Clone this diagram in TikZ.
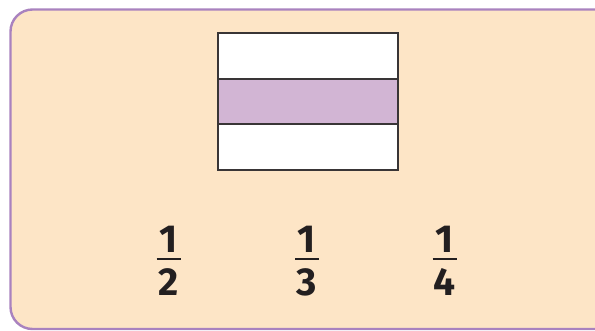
\documentclass[tikz,border=0pt]{standalone}
\usepackage{fontspec}
\newfontfamily\fracfont{Fira Sans}
\definecolor{panelbg}{HTML}{FDE5C6}
\definecolor{panelline}{HTML}{A982BF}
\definecolor{stripe}{HTML}{D2B5D4}
\definecolor{ink}{HTML}{231F20}
\begin{document}
\begin{tikzpicture}[x=1pt,y=-1pt,
  panel/.style={draw=panelline,fill=panelbg,line width=2.4pt,rounded corners=22pt},
  band/.style={draw=ink!90,line width=1.6pt},
  digit/.style={inner sep=0pt,font=\fracfont\bfseries\fontsize{39}{39}\selectfont,text=ink},
  fbar/.style={draw=ink,line width=2pt}]
\useasboundingbox (0,0) rectangle (595,330);
\path[panel] (10.5,9.5) rectangle (620,329);
% bands
\path[band,fill=white] (218,33) rectangle (398,79);
\path[band,fill=stripe] (218,79) rectangle (398,124);
\path[band,fill=white] (218,124) rectangle (398,170);
% fractions
\foreach \x/\d/\n in {168.5/2/a,307/3/b,444.5/4/c}{
  \node[digit,anchor=base] (num\n) at (\x,252) {1};
  \node[digit,anchor=base] (den\n) at (\x,295) {\d};
  \coordinate (bl\n) at (\x-12,258.5);
  \coordinate (br\n) at (\x+12,258.5);
  \draw[fbar] (bl\n) -- (br\n);
}
\end{tikzpicture}
\end{document}
